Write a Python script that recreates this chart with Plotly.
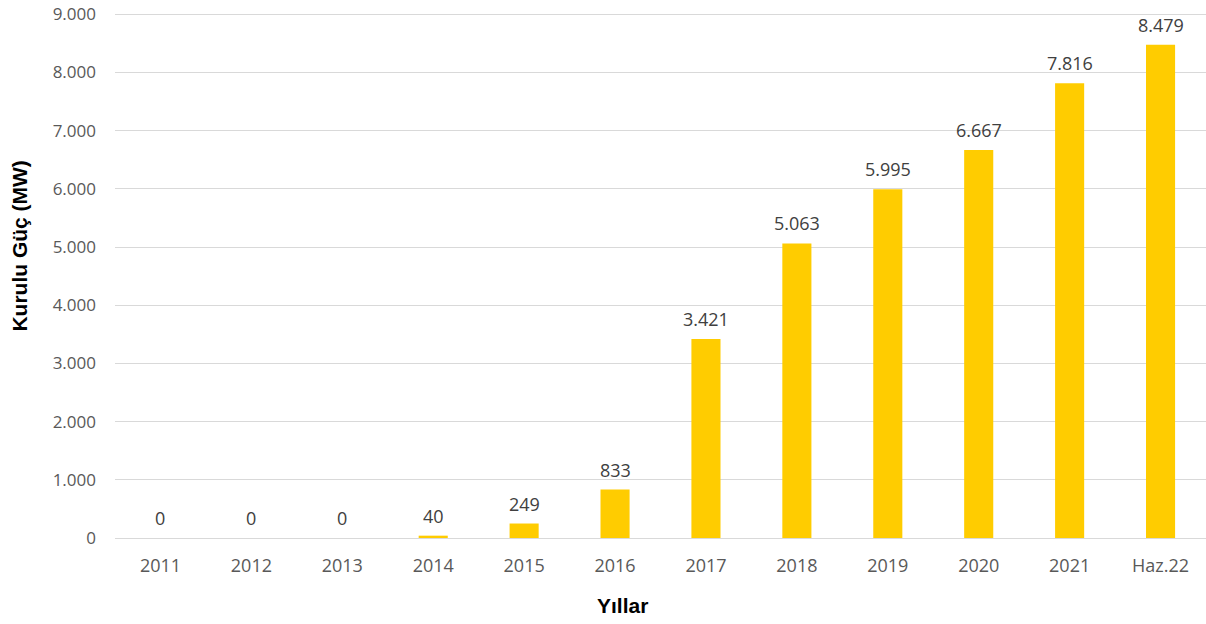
import plotly.graph_objects as go

# Installed capacity by year (MW)
years = ["2011", "2012", "2013", "2014", "2015", "2016", "2017", "2018",
         "2019", "2020", "2021", "Haz.22"]
capacity_mw = [0, 0, 0, 40, 249, 833, 3421, 5063, 5995, 6667, 7816, 8479]
y_ticks = [0, 1000, 2000, 3000, 4000, 5000, 6000, 7000, 8000, 9000]


def tr_thousands(v):
    return f"{v:,}".replace(",", ".")


x_tick_font = dict(family="Open Sans, Noto Sans, sans-serif", size=18, color="#595959")
y_tick_font = dict(family="Open Sans, Noto Sans, sans-serif", size=17, color="#595959")
label_font = dict(family="Open Sans, Noto Sans, sans-serif", size=18, color="#404040")
title_font = dict(family="Liberation Sans Narrow, Liberation Sans, Arial, sans-serif",
                  size=21, color="#000000")

fig = go.Figure()
fig.add_trace(go.Bar(
    x=years,
    y=capacity_mw,
    marker=dict(color="#FFCC00", line=dict(width=0)),
    width=0.32,
    hoverinfo="x+y",
))

# Value labels above each bar (category axis positions by index)
for i, v in enumerate(capacity_mw):
    fig.add_annotation(
        x=i, y=v, xref="x", yref="y",
        text=tr_thousands(v),
        showarrow=False,
        yanchor="bottom",
        yshift=6,
        font=label_font,
    )

# Axis titles
fig.add_annotation(
    text="<b>Kurulu Güç (MW)</b>", xref="paper", yref="paper",
    x=-0.0875, y=0.555, textangle=-90, showarrow=False,
    xanchor="center", yanchor="middle", font=title_font,
)
fig.add_annotation(
    text="<b>Yıllar</b>", xref="paper", yref="paper",
    x=0.465, y=-0.128, showarrow=False,
    xanchor="center", yanchor="middle", font=title_font,
)

fig.update_layout(
    width=1206,
    height=624,
    margin=dict(l=115, r=0, t=12, b=86),
    plot_bgcolor="white",
    paper_bgcolor="white",
    showlegend=False,
    bargap=0.68,
    xaxis=dict(
        type="category",
        range=[-0.5, len(years) - 0.5],
        showgrid=False,
        showline=False,
        ticks="",
        tickfont=x_tick_font,
        ticklabelstandoff=15,
    ),
    yaxis=dict(
        range=[0, 9040],
        tickvals=y_ticks,
        ticktext=[tr_thousands(t) for t in y_ticks],
        showgrid=True,
        gridcolor="#D9D9D9",
        gridwidth=1,
        zeroline=True,
        zerolinecolor="#D9D9D9",
        zerolinewidth=1,
        showline=False,
        ticks="",
        tickfont=y_tick_font,
        ticklabelstandoff=18,
    ),
)

fig.write_html("out.html")
